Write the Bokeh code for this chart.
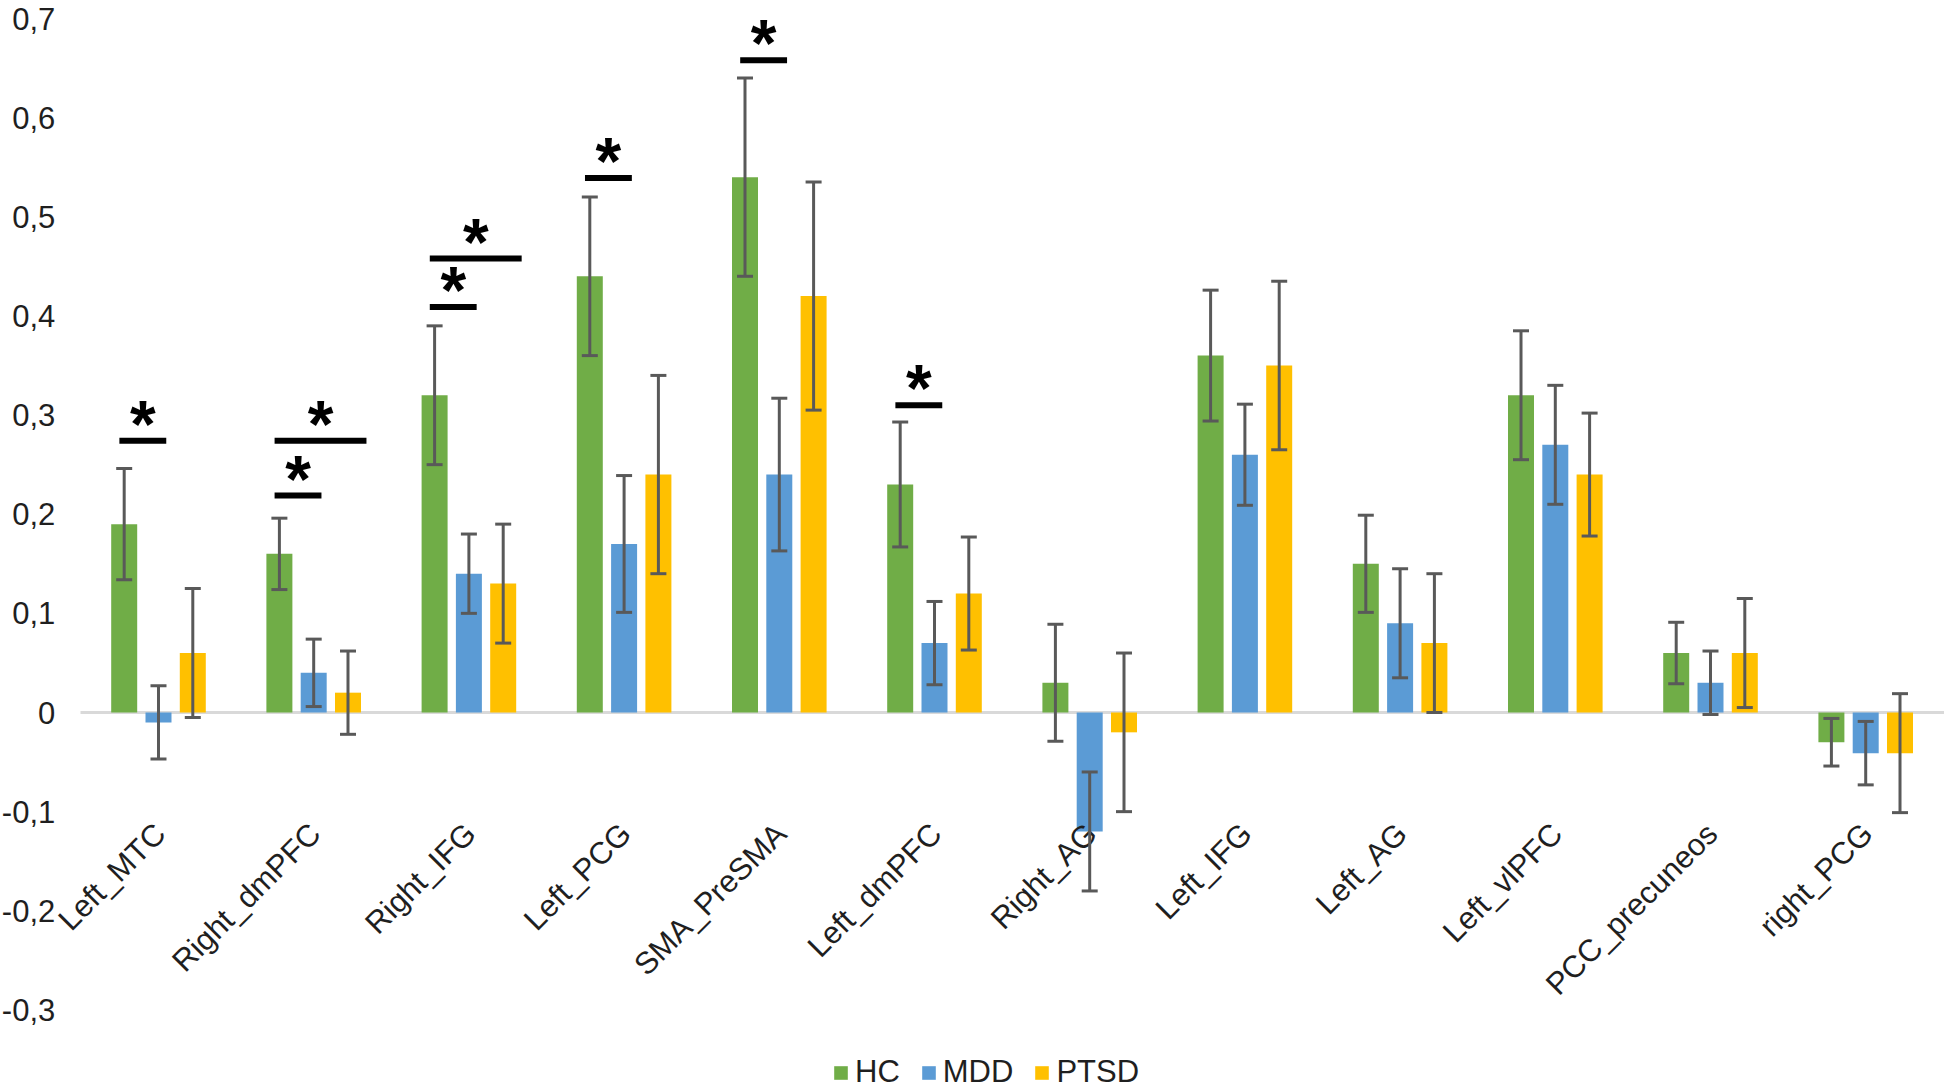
import math
from bokeh.plotting import figure
from bokeh.models import ColumnDataSource, Whisker, TeeHead, Legend, LegendItem
from bokeh.core.properties import value
from bokeh.embed import file_html
from bokeh.resources import INLINE

# ---------------- data ----------------
categories = ["Left_MTC", "Right_dmPFC", "Right_IFG", "Left_PCG", "SMA_PreSMA", "Left_dmPFC",
              "Right_AG", "Left_IFG", "Left_AG", "Left_vlPFC", "PCC_precuneos", "right_PCG"]
groups = ["HC", "MDD", "PTSD"]
hc = [0.19, 0.16, 0.32, 0.44, 0.54, 0.23, 0.03, 0.36, 0.15, 0.32, 0.06, -0.03]
mdd = [-0.01, 0.04, 0.14, 0.17, 0.24, 0.07, -0.12, 0.26, 0.09, 0.27, 0.03, -0.041]
ptsd = [0.06, 0.02, 0.13, 0.24, 0.42, 0.12, -0.02, 0.35, 0.07, 0.24, 0.06, -0.041]
hc_err = [0.056, 0.036, 0.07, 0.08, 0.10, 0.063, 0.059, 0.066, 0.049, 0.065, 0.031, 0.024]
mdd_err = [0.037, 0.034, 0.04, 0.069, 0.077, 0.042, 0.06, 0.051, 0.055, 0.06, 0.032, 0.032]
ptsd_err = [0.065, 0.042, 0.06, 0.10, 0.115, 0.057, 0.08, 0.085, 0.07, 0.062, 0.055, 0.06]
y_ticks = [-0.3, -0.2, -0.1, 0.0, 0.1, 0.2, 0.3, 0.4, 0.5, 0.6, 0.7]
y_tick_labels = ["-0,3", "-0,2", "-0,1", "0", "0,1", "0,2", "0,3", "0,4", "0,5", "0,6", "0,7"]

# significance brackets: category index, compared group, bracket height
sig_category = [0, 1, 1, 2, 2, 3, 4, 5]
sig_against = ["MDD", "MDD", "PTSD", "MDD", "PTSD", "MDD", "MDD", "MDD"]
sig_height = [0.274, 0.219, 0.274, 0.409, 0.458, 0.539, 0.658, 0.310]
sig_label = ["*"] * len(sig_category)

# ---------------- style ----------------
colors = {"HC": "#70AD47", "MDD": "#5B9BD5", "PTSD": "#FFC000"}
offsets = {"HC": -0.221, "MDD": 0.0, "PTSD": 0.221}
bar_width = 0.1675
err_color = "#595959"
text_color = "#1F1F1F"
FONT = "Liberation Sans"
FS = "31px"
X_START = -1.018          # left edge of the figure (data units)
PLOT_LEFT = -0.5026       # where the category area / zero line begins
X_END = 11.5077
TICK_LABEL_X = -0.665     # right edge of the value labels

p = figure(width=1944, height=1090, x_range=(X_START, X_END), y_range=(-0.38127, 0.71816),
           output_backend="svg", toolbar_location=None, x_axis_location=None,
           y_axis_location=None, min_border=0)
p.outline_line_color = None
p.grid.visible = False
p.background_fill_color = "white"
p.border_fill_color = "white"

# value labels (y axis)
p.text(x=[TICK_LABEL_X] * len(y_ticks), y=y_ticks, text=y_tick_labels,
       text_align="right", text_baseline="middle", text_font=value(FONT),
       text_font_size=FS, text_color=text_color)

# zero line
p.segment(x0=[PLOT_LEFT], y0=[0], x1=[X_END], y1=[0], line_color="#D9D9D9", line_width=3)

xs = list(range(len(categories)))
series = {"HC": (hc, hc_err), "MDD": (mdd, mdd_err), "PTSD": (ptsd, ptsd_err)}
legend_items = []
for g in groups:
    vals, errs = series[g]
    src = ColumnDataSource(dict(
        x=[i + offsets[g] for i in xs],
        top=vals,
        upper=[v + e for v, e in zip(vals, errs)],
        lower=[v - e for v, e in zip(vals, errs)],
    ))
    r = p.vbar(x="x", top="top", bottom=0, width=bar_width, source=src,
               fill_color=colors[g], line_color=None)
    legend_items.append(LegendItem(label=g, renderers=[r]))
    w = Whisker(base="x", upper="upper", lower="lower", source=src, dimension="height",
                line_color=err_color, line_width=3, level="overlay",
                upper_head=TeeHead(size=16, line_color=err_color, line_width=3),
                lower_head=TeeHead(size=16, line_color=err_color, line_width=3))
    p.add_layout(w)

# significance brackets
end_off = {"MDD": 0.05, "PTSD": 0.34}
x0 = [c - 0.252 for c in sig_category]
x1 = [c + end_off[a] for c, a in zip(sig_category, sig_against)]
p.segment(x0=x0, y0=sig_height, x1=x1, y1=sig_height, line_color="black", line_width=6)
p.text(x=[(a + b) / 2 for a, b in zip(x0, x1)], y=[h + 0.026 for h in sig_height], text=sig_label,
       text_align="center", text_baseline="middle", text_font=value(FONT),
       text_font_style="bold", text_font_size="66px", text_color="black", y_offset=9)

# category labels (rotated)
p.text(x=[i + 0.01 for i in xs], y=[-0.117] * len(xs), text=categories,
       angle=math.pi / 4, text_align="right", text_baseline="middle",
       text_font=value(FONT), text_font_size=FS, text_color=text_color)

legend = Legend(items=legend_items, orientation="horizontal", location=(832, 0),
                glyph_width=17, glyph_height=17, label_standoff=6, spacing=20,
                padding=0, margin=0, border_line_color=None, background_fill_alpha=0,
                label_text_font=FONT, label_text_font_size=FS, label_text_color=text_color)
p.add_layout(legend, "center")

open("out.html", "w").write(file_html(p, INLINE))
